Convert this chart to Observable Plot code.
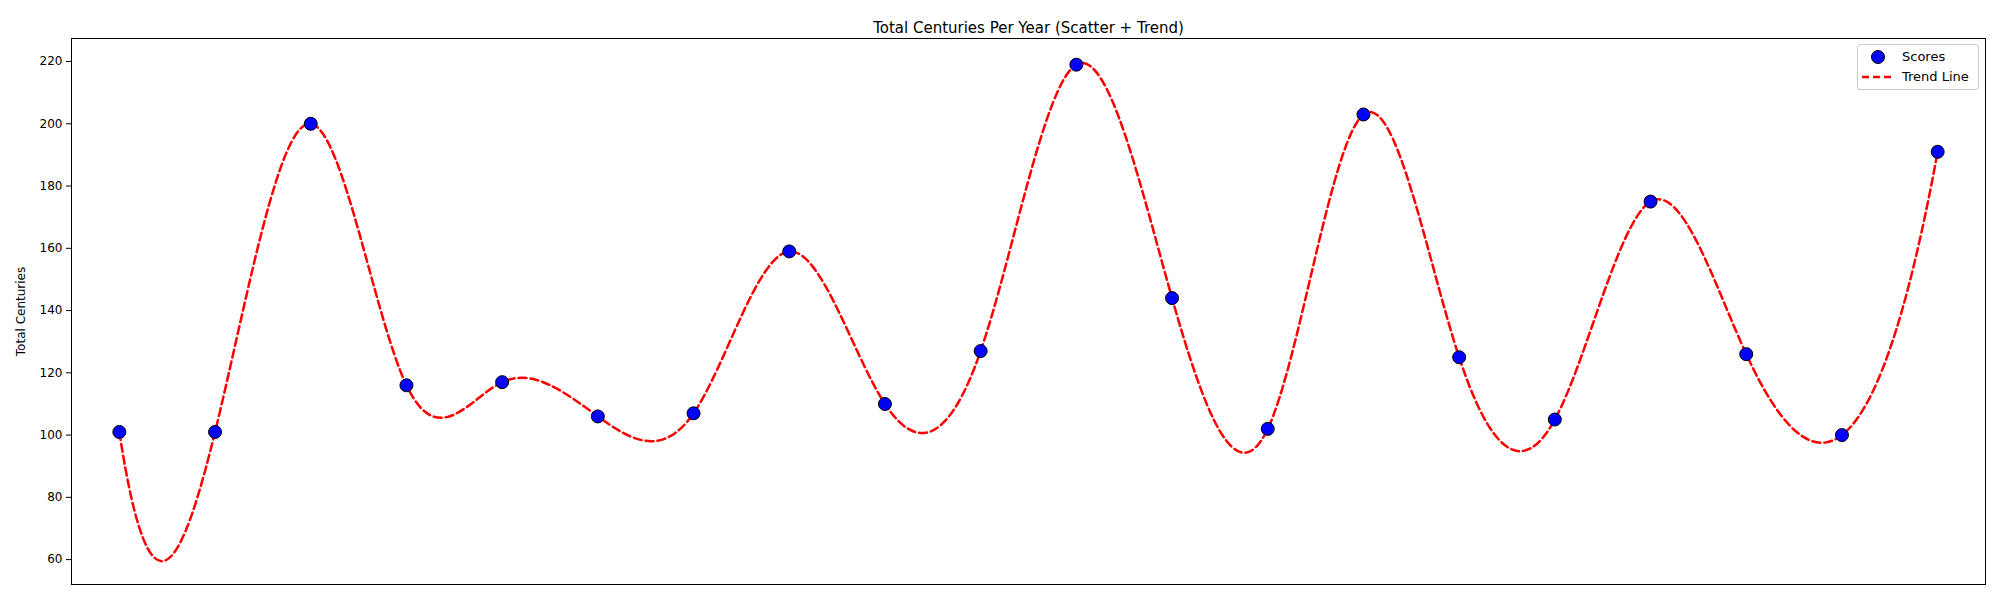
<!DOCTYPE html>
<html>
<head>
<meta charset="utf-8">
<script src="https://cdn.jsdelivr.net/npm/d3@7"></script>
<script src="https://cdn.jsdelivr.net/npm/@observablehq/plot@0.6"></script>
<style>
  body { margin: 0; background: #fff; font-family: "DejaVu Sans", sans-serif; }
  #wrap { position: relative; width: 2000px; height: 600px; }
  #legend { position: absolute; left: 1857px; top: 44px; width: 122px; height: 46px;
    border: 1px solid #ccc; border-radius: 3px; background: #fff; font-size: 13px; box-sizing: border-box; }
  #legend .row { position: absolute; left: 0; width: 120px; height: 20px; line-height: 20px; white-space: nowrap; }
  #legend .lbl { position: absolute; left: 44px; }
</style>
</head>
<body>
<div id="wrap">
  <div id="legend">
    <div class="row" style="top:2px">
      <svg width="40" height="20" style="position:absolute;left:0"><circle cx="20" cy="10" r="6.5" fill="blue" stroke="black"/></svg>
      <span class="lbl">Scores</span>
    </div>
    <div class="row" style="top:22px">
      <svg width="40" height="20" style="position:absolute;left:0"><line x1="4" x2="36" y1="10" y2="10" stroke="red" stroke-width="2.5" stroke-dasharray="7,4"/></svg>
      <span class="lbl">Trend Line</span>
    </div>
  </div>
</div>
<script>
// Total centuries per year, one point per year (years not labelled)
const yearIndex = d3.range(20);
const centuries = [101, 101, 200, 116, 117, 106, 107, 159, 110, 127, 219, 144, 102, 203, 125, 105, 175, 126, 100, 191];

const data = yearIndex.map((i) => ({ x: i, y: centuries[i] }));

// cubic spline with not-a-knot ends, drawn as bezier segments
function curveNotAKnot(context) {
  let xs, ys;
  return {
    areaStart() {}, areaEnd() {},
    lineStart() { xs = []; ys = []; },
    point(x, y) { xs.push(+x); ys.push(+y); },
    lineEnd() {
      const n = xs.length;
      if (n < 4) {
        xs.forEach((x, i) => i ? context.lineTo(x, ys[i]) : context.moveTo(x, ys[i]));
        return;
      }
      const h = d3.range(n - 1).map((i) => xs[i + 1] - xs[i]);
      const A = d3.range(n).map(() => new Array(n).fill(0));
      const b = new Array(n).fill(0);
      A[0][0] = h[1]; A[0][1] = -(h[0] + h[1]); A[0][2] = h[0];
      A[n - 1][n - 3] = h[n - 2]; A[n - 1][n - 2] = -(h[n - 3] + h[n - 2]); A[n - 1][n - 1] = h[n - 3];
      for (let i = 1; i < n - 1; i++) {
        A[i][i - 1] = h[i - 1]; A[i][i] = 2 * (h[i - 1] + h[i]); A[i][i + 1] = h[i];
        b[i] = 6 * ((ys[i + 1] - ys[i]) / h[i] - (ys[i] - ys[i - 1]) / h[i - 1]);
      }
      // gaussian elimination with partial pivoting
      for (let c = 0; c < n; c++) {
        let p = c;
        for (let r = c + 1; r < n; r++) if (Math.abs(A[r][c]) > Math.abs(A[p][c])) p = r;
        [A[c], A[p]] = [A[p], A[c]]; [b[c], b[p]] = [b[p], b[c]];
        for (let r = c + 1; r < n; r++) {
          const f = A[r][c] / A[c][c];
          if (!f) continue;
          for (let k = c; k < n; k++) A[r][k] -= f * A[c][k];
          b[r] -= f * b[c];
        }
      }
      const M = new Array(n).fill(0);
      for (let r = n - 1; r >= 0; r--) {
        let s = b[r];
        for (let k = r + 1; k < n; k++) s -= A[r][k] * M[k];
        M[r] = s / A[r][r];
      }
      const m = d3.range(n).map((i) => i < n - 1
        ? (ys[i + 1] - ys[i]) / h[i] - h[i] * (2 * M[i] + M[i + 1]) / 6
        : (ys[i] - ys[i - 1]) / h[i - 1] + h[i - 1] * (M[i - 1] + 2 * M[i]) / 6);
      context.moveTo(xs[0], ys[0]);
      for (let i = 0; i < n - 1; i++) {
        const d = h[i] / 3;
        context.bezierCurveTo(xs[i] + d, ys[i] + m[i] * d, xs[i + 1] - d, ys[i + 1] - m[i + 1] * d, xs[i + 1], ys[i + 1]);
      }
    }
  };
}

const chart = Plot.plot({
  width: 2000,
  height: 600,
  marginLeft: 71,
  marginRight: 15,
  marginTop: 38,
  marginBottom: 16,
  style: { fontFamily: "DejaVu Sans", fontSize: "12px", color: "black" },
  x: { domain: [-0.5, 19.5], axis: null },
  y: {
    domain: [52, 227.4],
    ticks: d3.range(60, 221, 20),
    label: "Total Centuries",
    labelAnchor: "center",
    labelArrow: "none",
    labelOffset: 55,
    tickSize: 5
  },
  marks: [
    Plot.frame({ stroke: "black" }),
    Plot.line(data, { x: "x", y: "y", curve: curveNotAKnot, stroke: "red", strokeWidth: 2.5, strokeDasharray: "8,4" }),
    Plot.dot(data, { x: "x", y: "y", r: 6.5, fill: "blue", stroke: "black", strokeWidth: 1 }),
    Plot.text(["Total Centuries Per Year (Scatter + Trend)"], { frameAnchor: "top", dy: -16, fontSize: 15, fill: "black" })
  ]
});
document.getElementById("wrap").prepend(chart);
</script>
</body>
</html>
